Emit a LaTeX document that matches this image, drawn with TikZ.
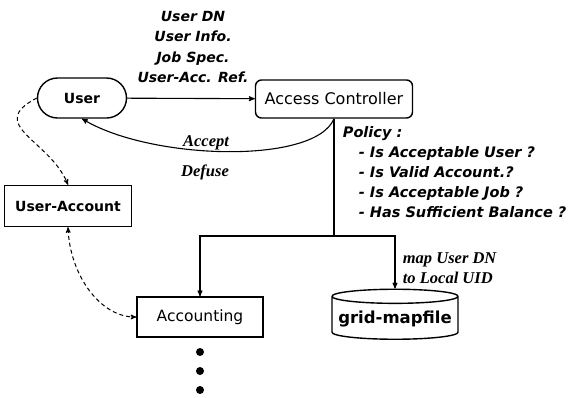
\documentclass[tikz,border=0pt]{standalone}
\usepackage{fontspec}
\setmainfont{DejaVu Sans}
\newfontfamily\serifbi{Liberation Serif}
\usepackage{tikz}
\usetikzlibrary{arrows,shapes.misc,shapes.geometric}

\tikzset{
 box/.style={draw,line width=1.4pt,minimum height=40pt,inner sep=2pt,font=\fontsize{13}{15}\selectfont},
 pill/.style={box,rounded rectangle},
 lbl/.style={font=\fontsize{14}{20.5}\selectfont\bfseries\itshape,align=center},
 rlbl/.style={font=\fontsize{16.5}{20}\selectfont\serifbi\bfseries\itshape,align=left},
 dashlink/.style={line width=1pt,dash pattern=on 4pt off 3pt}
}

\begin{document}
\begin{tikzpicture}[x=1pt,y=-1pt,>=stealth',line width=1.1pt]
 \useasboundingbox (0,0) rectangle (573,397);
 \node[pill,minimum width=93pt,font=\fontsize{14}{16}\selectfont\bfseries] (user) at (82,98) {User};
 \node[box,rounded corners=6pt,minimum width=157pt,minimum height=38pt,font=\fontsize{16}{18}\selectfont] (ctrl) at (334,99) {Access Controller};
 \node[box,minimum width=127pt,minimum height=41pt,font=\fontsize{14}{16}\selectfont\bfseries] (uacc) at (68,206) {User-Account};
 \node[box,minimum width=126pt,font=\fontsize{15.5}{17}\selectfont] (acct) at (200,317) {Accounting};
 \node[draw,line width=1.4pt,cylinder,shape border rotate=90,aspect=0.12,inner sep=2pt,
 minimum width=126pt,minimum height=50pt,font=\fontsize{16.5}{18}\selectfont\bfseries] (mapfile) at (395,319) {grid-mapfile};
 \coordinate (split) at (334,236);

 % request and answer
 \node[lbl] (req) at (193,47) {User DN\\User Info.\\Job Spec.\\User-Acc. Ref.};
 \draw[->] (user) -- (ctrl);
 \draw[->] (ctrl.south) .. controls (315,165) and (150,160) .. (user.south);
 \node[rlbl] (acc) at (206,143) {Accept};
 \node[rlbl] (def) at (205,172) {Defuse};

 % policy checks
 \node[anchor=north west,align=left,font=\fontsize{14.5}{20}\selectfont\bfseries\itshape] (policy) at (339,123)
 {Policy :\\\hspace*{16pt}- Is Acceptable User ?\\\hspace*{16pt}- Is Valid Account.?\\
 \hspace*{16pt}- Is Acceptable Job ?\\\hspace*{16pt}- Has Sufficient Balance ?};
 \draw (ctrl.south) -- (split);
 \draw[->] (split) -| (acct.north);
 \draw[->] (split) -| (mapfile.north);
 \node[rlbl,anchor=west] (map) at (399,268) {map User DN\\to Local UID};

 % account links
 \draw[dashlink,->] (user.west) .. controls (-15,125) and (50,140) .. (uacc.north);
 \draw[dashlink,<->] (uacc.south) .. controls (70,275) and (100,317) .. (acct.west);

 \foreach \y in {352,371,390}
 \fill (200,\y) circle (4pt);
\end{tikzpicture}
\end{document}
